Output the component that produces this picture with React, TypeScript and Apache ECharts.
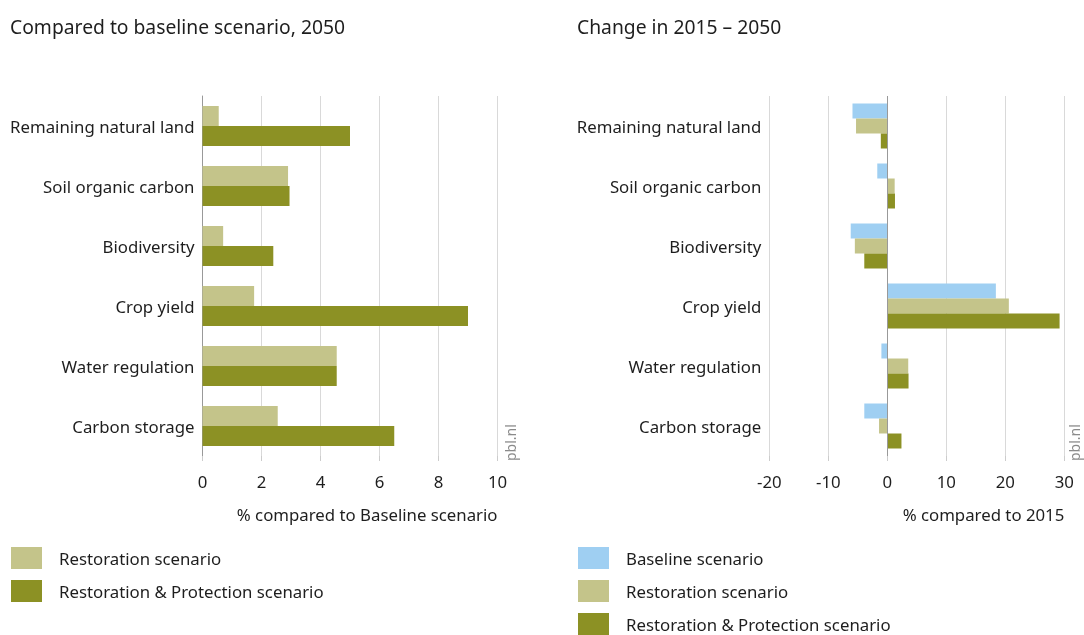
import React, { useEffect, useRef } from "react";
import * as echarts from "echarts";

const categories = [
  "Remaining natural land",
  "Soil organic carbon",
  "Biodiversity",
  "Crop yield",
  "Water regulation",
  "Carbon storage",
];
const leftRestoration = [0.55, 2.9, 0.7, 1.75, 4.55, 2.55];
const leftRestProt = [5.0, 2.95, 2.4, 9.0, 4.55, 6.5];
const rightBaseline = [-5.9, -1.7, -6.2, 18.4, -1.0, -3.9];
const rightRestoration = [-5.3, 1.25, -5.5, 20.6, 3.55, -1.4];
const rightRestProt = [-1.1, 1.3, -3.9, 29.2, 3.6, 2.4];

const titles = ["Compared to baseline scenario, 2050", "Change in 2015 \u2013 2050"];
const axisNames = ["% compared to Baseline scenario", "% compared to 2015"];
const seriesNames = ["Baseline scenario", "Restoration scenario", "Restoration & Protection scenario"];

const BLUE = "#9fcff2";
const LIGHT = "#c4c48a";
const DARK = "#8c9124";
const FONT = "Noto Sans";
const TXT = "#1e1e1e";
const FS = 16.8;

export default function App() {
  const ref = useRef<HTMLDivElement>(null);
  useEffect(() => {
    if (!ref.current) return;
    const chart = echarts.init(ref.current, undefined, { renderer: "svg" });
    const grids = [
      { left: 202.5, top: 96, width: 295, height: 360 },
      { left: 769.3, top: 96, width: 295, height: 360 },
    ];
    const xBase = {
      type: "value",
      axisLine: { show: false },
      axisTick: { show: true, length: 5, lineStyle: { color: "#cccccc" } },
      axisLabel: { margin: 17, fontSize: FS, color: TXT, fontFamily: FONT },
      splitLine: { show: true, lineStyle: { color: "#d9d9d9", width: 1 } },
    };
    const yBase = {
      type: "category",
      data: categories,
      inverse: true,
      axisTick: { show: false },
      axisLabel: { margin: 8, fontSize: FS, color: TXT, fontFamily: FONT },
    };
    const bar = (name: string, xi: number, data: number[], color: string, w: number) => ({
      type: "bar",
      name,
      xAxisIndex: xi,
      yAxisIndex: xi,
      data,
      barWidth: w,
      barGap: "0%",
      itemStyle: { color },
    });
    const legendBase = {
      orient: "vertical",
      top: 547,
      height: 120,
      padding: 0,
      itemWidth: 31,
      itemHeight: 22,
      itemGap: 11,
      icon: "rect",
      selectedMode: false,
      textStyle: { fontSize: FS, color: TXT, fontFamily: FONT, padding: [0, 0, 0, 12] },
    };
    const titleStyle = { fontSize: 19.3, fontWeight: "normal", color: TXT, fontFamily: FONT };
    chart.setOption({
      animation: false,
      textStyle: { fontFamily: FONT },
      title: [
        { text: titles[0], left: 10, top: 17, padding: 0, textStyle: titleStyle },
        { text: titles[1], left: 577, top: 17, padding: 0, textStyle: titleStyle },
      ],
      legend: [
        { ...legendBase, left: 11, data: [seriesNames[1], seriesNames[2]] },
        { ...legendBase, left: 578, data: seriesNames },
      ],
      grid: grids,
      xAxis: [
        { ...xBase, gridIndex: 0, min: 0, max: 10, interval: 2 },
        { ...xBase, gridIndex: 1, min: -20, max: 30, interval: 10 },
      ],
      yAxis: [
        { ...yBase, gridIndex: 0, axisLine: { show: true, lineStyle: { color: "#999999" } } },
        { ...yBase, gridIndex: 1, axisLine: { show: false } },
      ],
      series: [
        bar(seriesNames[1], 0, leftRestoration, LIGHT, 20),
        bar(seriesNames[2], 0, leftRestProt, DARK, 20),
        {
          ...bar(seriesNames[0], 1, rightBaseline, BLUE, 15),
          markLine: {
            silent: true,
            symbol: "none",
            label: { show: false },
            lineStyle: { color: "#999999", type: "solid", width: 1 },
            data: [{ xAxis: 0 }],
          },
        },
        bar(seriesNames[1], 1, rightRestoration, LIGHT, 15),
        bar(seriesNames[2], 1, rightRestProt, DARK, 15),
      ],
      graphic: [
        { type: "text", right: 1084 - 497.5, top: 506, style: { text: axisNames[0], fontSize: FS, fill: TXT, fontFamily: FONT } },
        { type: "text", right: 1084 - 1064.3, top: 506, style: { text: axisNames[1], fontSize: FS, fill: TXT, fontFamily: FONT } },
        { type: "text", x: 503, y: 461, rotation: Math.PI / 2, style: { text: "pbl.nl", fontSize: 14, fill: "#8a8a8a", fontFamily: FONT } },
        { type: "text", x: 1067, y: 461, rotation: Math.PI / 2, style: { text: "pbl.nl", fontSize: 14, fill: "#8a8a8a", fontFamily: FONT } },
      ],
    });
    return () => chart.dispose();
  }, []);
  return <div ref={ref} style={{ position: "fixed", left: 0, top: 0, width: 1084, height: 635 }} />;
}
